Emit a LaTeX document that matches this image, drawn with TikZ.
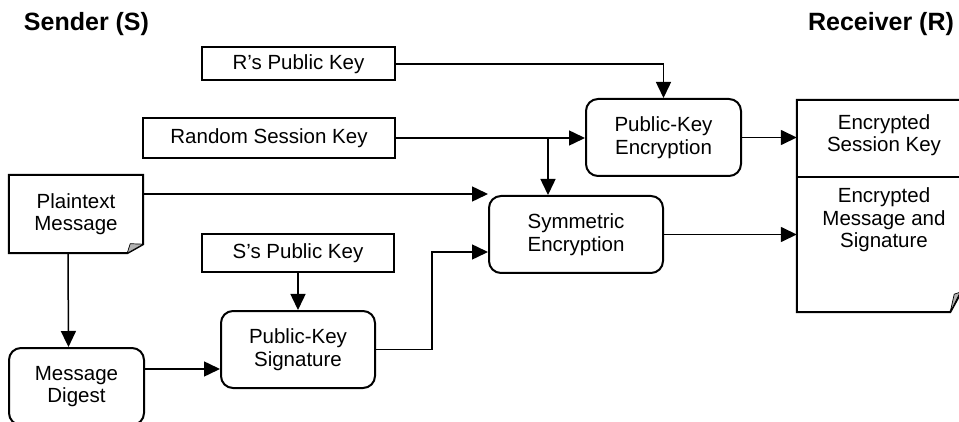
\documentclass[tikz,border=0pt]{standalone}
\usepackage{fontspec}
\setmainfont{Liberation Sans}
\usetikzlibrary{arrows.meta}
\begin{document}
\begin{tikzpicture}[x=1pt,y=-1pt,
  txt/.style={font=\fontsize{20.5}{22.5}\selectfont, align=center, inner sep=0pt},
  boxline/.style={line width=2pt, line join=miter},
  sqbox/.style={txt, draw, boxline},
  rbox/.style={txt, draw, boxline, rounded corners=12pt, minimum width=155pt, minimum height=77pt},
  hdr/.style={font=\bfseries\fontsize{25}{30}\selectfont, inner sep=0pt},
  arr/.style={line width=1.5pt, -{Triangle[length=16pt,width=15pt]}},
  flap/.style={fill=black!30, draw=black, line width=0.7pt, line join=round}
]
\useasboundingbox (0,0) rectangle (959,422);
\clip (0,0) rectangle (959,422);

% headers
\node[hdr] (sender) at (86.5,24) {Sender (S)};
\node[hdr] (receiver) at (881,24) {Receiver (R)};

% key boxes
\node[sqbox, minimum width=193pt, minimum height=33pt] (rkey) at (298.5,64) {R’s Public Key};
\node[sqbox, minimum width=252pt, minimum height=40pt] (rsk) at (269,138) {Random Session Key};
\node[sqbox, minimum width=192pt, minimum height=38pt] (skey) at (298,253) {S’s Public Key};

% process boxes
\node[rbox] (pke) at (663.5,137.5) {Public-Key\\Encryption};
\node[rbox, minimum width=174pt] (sym) at (576,234.5) {Symmetric\\Encryption};
\node[rbox, minimum width=154pt] (pks) at (298,349.5) {Public-Key\\Signature};
\node[rbox, minimum width=135pt] (md) at (76.5,386.5) {Message\\Digest};

% plaintext document
\node[txt, minimum width=134pt, minimum height=78pt] (ptm) at (76,214) {Plaintext\\Message};
\draw[boxline] (ptm.north west) -- (ptm.north east) -- ([yshift=9pt]ptm.south east)
  -- ([xshift=-16pt]ptm.south east) -- (ptm.south west) -- cycle;
\draw[flap] ([xshift=-16pt]ptm.south east) -- ([yshift=9pt]ptm.south east)
  -- ([xshift=-13pt,yshift=9.5pt]ptm.south east) -- cycle;

% encrypted output document
\node[inner sep=0pt, minimum width=165pt, minimum height=212pt] (doc) at (879.5,206) {};
\draw[boxline] (doc.north west) -- (doc.north east) -- ([yshift=22pt]doc.south east)
  -- ([xshift=-12pt]doc.south east) -- (doc.south west) -- cycle;
\draw[flap] ([xshift=-12pt]doc.south east) -- ([xshift=-2pt,yshift=20pt]doc.south east)
  -- ([xshift=-8pt,yshift=18pt]doc.south east) -- cycle;
\draw[boxline] ([yshift=-77pt]doc.north west) -- ([yshift=-77pt]doc.north east);
\node[txt] (docA) at (884,135) {Encrypted\\Session Key};
\node[txt] (docB) at (884,220) {Encrypted\\Message and\\Signature};

% connectors
\draw[arr] (rkey.east) -| (pke.north);
\draw[arr] (rsk.east) -- (rsk.east -| pke.west);
\coordinate (br) at (548,138);
\draw[arr] (br) -- (br |- sym.north);
\draw[arr] (pke.east) -- (pke.east -| doc.west);
\draw[arr] ([yshift=20pt]ptm.east) -- ([yshift=20pt]ptm.east -| sym.west);
\draw[arr] (sym.east) -- (sym.east -| doc.west);
\draw[arr] ([xshift=-8pt]ptm.south) -- ([xshift=-8pt]md.north);
\draw[arr] ([yshift=17.5pt]md.east) -- ([yshift=17.5pt]md.east -| pks.west);
\draw[arr] (skey.south) -- (pks.north);
\coordinate (k) at (432,252);
\draw[arr] (pks.east) -| (k) -- (k -| sym.west);
\end{tikzpicture}
\end{document}
